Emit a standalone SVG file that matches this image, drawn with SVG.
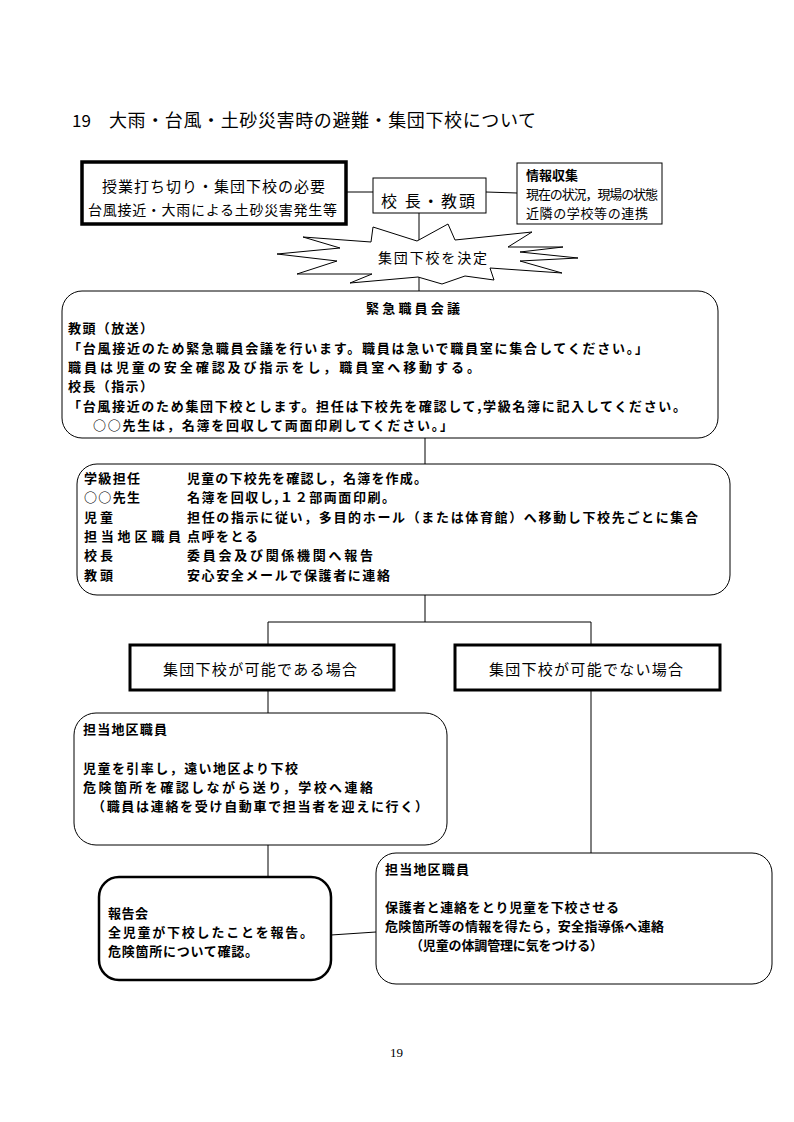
<svg xmlns="http://www.w3.org/2000/svg" width="794" height="1122" viewBox="0 0 794 1122">
<style>
.bg{fill:#fff}
.ln{stroke:#000;stroke-width:1;fill:none}
.box{fill:#fff;stroke:#000;stroke-width:1}
.thick{fill:#fff;stroke:#000;stroke-width:3.5}
.t{font-family:"Noto Sans CJK JP","Noto Sans",sans-serif;fill:#000}
.r{font-weight:normal}
.b{font-weight:bold;font-size:13px}
</style>
<rect class="bg" x="0" y="0" width="794" height="1122"/>
<g id="title">
<text class="t r" x="72" y="127" font-size="17">19</text>
<text class="t r" x="109" y="127" font-size="18" textLength="427" lengthAdjust="spacing">大雨・台風・土砂災害時の避難・集団下校について</text>
</g>
<g id="connectors">
<line class="ln" x1="346" y1="192" x2="373" y2="192"/>
<line class="ln" x1="486" y1="192" x2="517" y2="193"/>
<line class="ln" x1="419" y1="213" x2="419" y2="291"/>
<line class="ln" x1="425" y1="438" x2="425" y2="464"/>
<line class="ln" x1="425" y1="595" x2="425" y2="622"/>
<line class="ln" x1="268" y1="622" x2="591" y2="622"/>
<line class="ln" x1="268" y1="622" x2="268" y2="645"/>
<line class="ln" x1="591" y1="622" x2="591" y2="645"/>
<line class="ln" x1="268" y1="690" x2="268" y2="713"/>
<line class="ln" x1="591" y1="690" x2="591" y2="853"/>
<line class="ln" x1="268" y1="845" x2="268" y2="877"/>
<line class="ln" x1="331" y1="935" x2="376" y2="932"/>
</g>
<g id="need">
<rect class="thick" x="82" y="162" width="264" height="62"/>
<text class="t r" x="102" y="192" font-size="15" textLength="223" lengthAdjust="spacing">授業打ち切り・集団下校の必要</text>
<text class="t r" x="88" y="215" font-size="14" textLength="249" lengthAdjust="spacing">台風接近・大雨による土砂災害発生等</text>
</g>
<g id="principal">
<rect class="box" x="373" y="178" width="113" height="35"/>
<text class="t r" x="381" y="207" font-size="16" textLength="94" lengthAdjust="spacing">校 長・教頭</text>
</g>
<g id="info">
<rect class="box" x="517" y="163" width="145" height="61"/>
<text class="t b" x="526" y="180">情報収集</text>
<text class="t r" x="526" y="199" font-size="13" textLength="132" lengthAdjust="spacing">現在の状況，現場の状態</text>
<text class="t r" x="526" y="218" font-size="13" textLength="122" lengthAdjust="spacing">近隣の学校等の連携</text>
</g>
<g id="decide">
<polygon class="box" points="373,227 417,241 448,224 455,240 532,232 508,247 563,247 520,252 578,258 520,261 562,273 490,268 494,280 465,276 442,284 418,277 350,283 372,274 297,274 337,261 277,254 340,248 303,237 371,242"/>
<text class="t r" x="378" y="263" font-size="14" textLength="109" lengthAdjust="spacing">集団下校を決定</text>
</g>
<g id="meeting">
<rect class="box" x="62" y="291" width="656" height="147" rx="20" ry="20"/>
<text class="t b" x="366" y="313" textLength="94" lengthAdjust="spacing">緊急職員会議</text>
<text class="t b" x="68" y="333" textLength="85" lengthAdjust="spacing">教頭（放送）</text>
<text class="t b" x="68" y="353" textLength="580" lengthAdjust="spacing">「台風接近のため緊急職員会議を行います。職員は急いで職員室に集合してください。」</text>
<text class="t b" x="68" y="372" textLength="412" lengthAdjust="spacing">職員は児童の安全確認及び指示をし，職員室へ移動する。</text>
<text class="t b" x="68" y="391" textLength="85" lengthAdjust="spacing">校長（指示）</text>
<text class="t b" x="68" y="411" textLength="618" lengthAdjust="spacing">「台風接近のため集団下校とします。担任は下校先を確認して,学級名簿に記入してください。</text>
<text class="t b" x="93" y="430" textLength="360" lengthAdjust="spacing">○○先生は，名簿を回収して両面印刷してください。」</text>
</g>
<g id="roles">
<rect class="box" x="77" y="464" width="653" height="131" rx="20" ry="20"/>
<text class="t b" x="84" y="483" textLength="56" lengthAdjust="spacing">学級担任</text>
<text class="t b" x="187" y="483" textLength="240" lengthAdjust="spacing">児童の下校先を確認し，名簿を作成。</text>
<text class="t b" x="84" y="502" textLength="56" lengthAdjust="spacing">○○先生</text>
<text class="t b" x="187" y="502" textLength="208" lengthAdjust="spacing">名簿を回収し,１２部両面印刷。</text>
<text class="t b" x="84" y="522" textLength="29" lengthAdjust="spacing">児童</text>
<text class="t b" x="187" y="522" textLength="511" lengthAdjust="spacing">担任の指示に従い，多目的ホール（または体育館）へ移動し下校先ごとに集合</text>
<text class="t b" x="84" y="541" textLength="97" lengthAdjust="spacing">担当地区職員</text>
<text class="t b" x="187" y="541" textLength="71" lengthAdjust="spacing">点呼をとる</text>
<text class="t b" x="84" y="560" textLength="29" lengthAdjust="spacing">校長</text>
<text class="t b" x="187" y="560" textLength="186" lengthAdjust="spacing">委員会及び関係機関へ報告</text>
<text class="t b" x="84" y="580" textLength="29" lengthAdjust="spacing">教頭</text>
<text class="t b" x="187" y="580" textLength="203" lengthAdjust="spacing">安心安全メールで保護者に連絡</text>
</g>
<g id="possible">
<rect class="thick" x="130" y="645" width="264" height="45" style="stroke-width:3"/>
<text class="t r" x="163" y="675" font-size="15" textLength="194" lengthAdjust="spacing">集団下校が可能である場合</text>
</g>
<g id="impossible">
<rect class="thick" x="455" y="645" width="265" height="45" style="stroke-width:3"/>
<text class="t r" x="489" y="675" font-size="15" textLength="194" lengthAdjust="spacing">集団下校が可能でない場合</text>
</g>
<g id="staff-escort">
<rect class="box" x="74" y="713" width="373" height="132" rx="22" ry="22"/>
<text class="t b" x="83" y="734" textLength="84" lengthAdjust="spacing">担当地区職員</text>
<text class="t b" x="83" y="773" textLength="215" lengthAdjust="spacing">児童を引率し，遠い地区より下校</text>
<text class="t b" x="83" y="792" textLength="290" lengthAdjust="spacing">危険箇所を確認しながら送り，学校へ連絡</text>
<text class="t b" x="92" y="811" textLength="336" lengthAdjust="spacing">（職員は連絡を受け自動車で担当者を迎えに行く）</text>
</g>
<g id="report">
<rect class="box" x="99" y="877" width="232" height="103" rx="20" ry="20" style="stroke-width:2.5"/>
<text class="t b" x="108" y="918" textLength="40" lengthAdjust="spacing">報告会</text>
<text class="t b" x="108" y="937" textLength="205" lengthAdjust="spacing">全児童が下校したことを報告。</text>
<text class="t b" x="108" y="956" textLength="150" lengthAdjust="spacing">危険箇所について確認。</text>
</g>
<g id="staff-parents">
<rect class="box" x="376" y="853" width="396" height="131" rx="20" ry="20"/>
<text class="t b" x="385" y="874" textLength="84" lengthAdjust="spacing">担当地区職員</text>
<text class="t b" x="385" y="912" textLength="234" lengthAdjust="spacing">保護者と連絡をとり児童を下校させる</text>
<text class="t b" x="385" y="931" textLength="279" lengthAdjust="spacing">危険箇所等の情報を得たら，安全指導係へ連絡</text>
<text class="t b" x="410" y="950" textLength="193" lengthAdjust="spacing">（児童の体調管理に気をつける）</text>
</g>
<g id="page">
<text x="390" y="1057" font-family="Liberation Serif, serif" font-size="13">19</text>
</g>
</svg>
